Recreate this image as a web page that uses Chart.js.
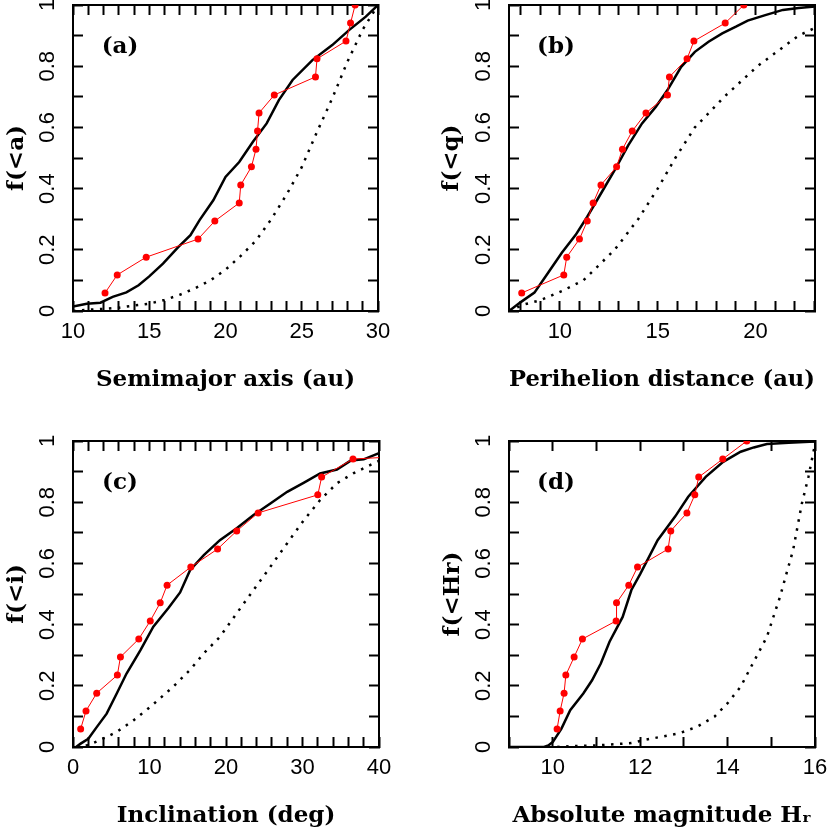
<!DOCTYPE html>
<html>
<head>
<meta charset="utf-8">
<script src="https://cdn.jsdelivr.net/npm/chart.js@4/dist/chart.umd.min.js"></script>
<style>
  html, body { margin: 0; padding: 0; background: #fff; }
  #wrap { position: relative; width: 830px; height: 836px; }
  #wrap canvas { position: absolute; }
</style>
</head>
<body>
<div id="wrap">
  <canvas id="panelA" width="415" height="418" style="left:0;top:0"></canvas>
  <canvas id="panelB" width="415" height="418" style="left:415px;top:0"></canvas>
  <canvas id="panelC" width="415" height="418" style="left:0;top:418px"></canvas>
  <canvas id="panelD" width="415" height="418" style="left:415px;top:418px"></canvas>
</div>
<script>
// Cumulative fraction of the observed sample (17 objects)
var obsFrac = [0.059, 0.118, 0.176, 0.235, 0.294, 0.353, 0.412, 0.471, 0.529,
               0.588, 0.647, 0.706, 0.765, 0.824, 0.882, 0.941, 1.0];

// (a) semimajor axis
var aObsX = [12.1, 12.9, 14.8, 18.2, 19.3, 20.9, 21.0, 21.7, 22.0, 22.1, 22.2, 23.2, 25.9, 26.0, 27.9, 28.2, 28.5];
var aModelX = [10, 10.9, 11.8, 12.6, 13.5, 14.3, 15.0, 15.9, 16.9, 17.7, 18.3, 19.2, 20.0, 20.9, 21.8, 22.7, 23.5, 24.4, 25.7, 27.0, 28.1, 29.2, 30];
var aModelF = [0.015, 0.024, 0.027, 0.046, 0.061, 0.084, 0.113, 0.155, 0.209, 0.248, 0.297, 0.362, 0.438, 0.487, 0.553, 0.613, 0.689, 0.755, 0.82, 0.869, 0.918, 0.962, 1.0];
var aIntX = [10, 11, 12, 13, 14, 15, 16, 17, 18, 19, 20, 21, 22, 23, 24, 25, 26, 27, 28, 29, 30];
var aIntF = [0.0, 0.004, 0.007, 0.011, 0.018, 0.024, 0.036, 0.053, 0.074, 0.1, 0.135, 0.18, 0.23, 0.3, 0.38, 0.47, 0.585, 0.695, 0.815, 0.92, 1.0];

// (b) perihelion distance
var bObsX = [8.05, 10.2, 10.35, 11.0, 11.4, 11.7, 12.1, 12.9, 13.2, 13.7, 14.4, 15.5, 15.6, 16.5, 16.85, 18.45, 19.4];
var bModelX = [7.4, 8.0, 8.7, 9.4, 10.1, 10.8, 11.4, 12.1, 12.8, 13.5, 14.2, 14.9, 15.5, 16.2, 16.9, 17.6, 18.3, 19.0, 19.6, 20.5, 21.4, 22.2, 23.04];
var bModelF = [0.0, 0.029, 0.06, 0.125, 0.19, 0.248, 0.308, 0.384, 0.46, 0.542, 0.613, 0.667, 0.722, 0.798, 0.847, 0.88, 0.907, 0.929, 0.949, 0.967, 0.984, 0.99, 0.995];
var bIntX = [7.4, 8.2, 9.0, 10.1, 11.2, 12.8, 14.0, 15.0, 15.9, 16.9, 18.4, 20.1, 22.2, 23.04];
var bIntF = [0.0, 0.022, 0.035, 0.065, 0.1, 0.2, 0.3, 0.4, 0.5, 0.6, 0.7, 0.8, 0.9, 0.925];

// (c) inclination
var cObsX = [1.0, 1.7, 3.1, 5.8, 6.2, 8.6, 10.1, 11.4, 12.3, 15.4, 18.9, 21.4, 24.2, 32.0, 32.5, 36.6, 80];
var cModelX = [0.4, 1.0, 2.0, 3.1, 4.4, 5.7, 7.0, 8.8, 10.5, 12.5, 14.0, 15.3, 17.1, 19.2, 21.4, 23.6, 25.8, 28.0, 30.2, 32.3, 34.5, 36.3, 38.0, 40];
var cModelF = [0.0, 0.011, 0.027, 0.065, 0.109, 0.174, 0.24, 0.316, 0.393, 0.455, 0.505, 0.578, 0.627, 0.676, 0.715, 0.758, 0.796, 0.834, 0.864, 0.894, 0.907, 0.936, 0.94, 0.96];
var cIntX = [0.5, 2.0, 3.5, 5.7, 7.9, 10.1, 13.1, 15.3, 17.1, 19.2, 21.4, 23.6, 25.8, 28.0, 30.2, 32.3, 34.5, 36.7, 39.3, 40];
var cIntF = [0.0, 0.006, 0.022, 0.049, 0.087, 0.131, 0.197, 0.252, 0.306, 0.36, 0.437, 0.513, 0.589, 0.666, 0.742, 0.807, 0.862, 0.895, 0.927, 0.935];

// (d) absolute magnitude
var dObsX = [10.1, 10.17, 10.26, 10.3, 10.49, 10.68, 11.45, 11.46, 11.74, 11.94, 12.64, 12.7, 13.07, 13.25, 13.34, 13.89, 14.44];
var dModelX = [9.0, 9.8, 9.9, 10.0, 10.2, 10.4, 10.7, 10.9, 11.1, 11.3, 11.6, 11.8, 12.0, 12.4, 12.8, 13.1, 13.5, 13.9, 14.3, 14.6, 14.9, 15.4, 16.0];
var dModelF = [0.0, 0.0, 0.005, 0.016, 0.06, 0.12, 0.175, 0.218, 0.273, 0.344, 0.425, 0.513, 0.565, 0.676, 0.753, 0.818, 0.883, 0.932, 0.965, 0.979, 0.99, 0.994, 0.998];
var dIntX = [10.1, 10.3, 11.0, 11.8, 12.1, 12.5, 12.9, 13.3, 13.7, 14.0, 14.3, 14.5, 14.7, 14.9, 15.05, 15.2, 15.35, 15.5, 15.6, 15.7, 15.85, 15.95, 16.0];
var dIntF = [0.0, 0.002, 0.005, 0.013, 0.023, 0.034, 0.045, 0.066, 0.099, 0.143, 0.197, 0.252, 0.306, 0.36, 0.426, 0.491, 0.568, 0.644, 0.72, 0.796, 0.883, 0.954, 0.99];

var fracTicks = [0, 0.2, 0.4, 0.6, 0.8, 1];

function pairs(xs, ys) {
    return xs.map(function (x, i) { return { x: x, y: ys[i] }; });
}

// draws the "(a)" style tag in the upper left of the plot
var panelTag = {
    id: 'panelTag',
    afterDatasetsDraw: function (chart, args, opts) {
        var ctx = chart.ctx, area = chart.chartArea;
        ctx.save();
        ctx.font = 'bold 23px "DejaVu Serif"';
        ctx.fillStyle = '#000';
        ctx.textAlign = 'center';
        ctx.textBaseline = 'middle';
        ctx.fillText(opts.text, area.left + 47, area.top + 42);
        ctx.restore();
    }
};

var tickFont = { family: '"Liberation Sans", Arial, sans-serif', size: 22 };
var titleFont = { family: '"DejaVu Serif", serif', size: 23, weight: 'bold' };

function frameGrid() {
    return { drawOnChartArea: false, tickLength: -10, tickWidth: 2, color: '#000' };
}

function makePanel(id, p) {
    var ctx = document.getElementById(id).getContext('2d');
    var xCommon = { type: 'linear', min: p.xMin, max: p.xMax };
    return new Chart(ctx, {
        type: 'line',
        data: {
            datasets: [{
                data: pairs(p.obsX, obsFrac),
                borderColor: '#ff0000',
                backgroundColor: '#ff0000',
                borderWidth: 1,
                pointRadius: 3.5,
                pointBorderWidth: 0,
                pointBackgroundColor: '#ff0000'
            }, {
                data: pairs(p.modelX, p.modelF),
                borderColor: '#000',
                borderWidth: 2.5,
                pointRadius: 0
            }, {
                data: pairs(p.intX, p.intF),
                borderColor: '#000',
                borderWidth: 2.5,
                borderDash: [2.5, 6.5],
                pointRadius: 0
            }]
        },
        options: {
            responsive: false,
            animation: false,
            devicePixelRatio: 1,
            events: [],
            layout: { padding: { left: 0, top: p.top, right: p.right, bottom: 0 } },
            elements: { line: { tension: 0 } },
            plugins: {
                legend: { display: false },
                tooltip: { enabled: false },
                panelTag: { text: p.tag }
            },
            scales: {
                x: Object.assign({}, xCommon, {
                    position: 'bottom',
                    border: { color: '#000', width: 2 },
                    grid: frameGrid(),
                    ticks: {
                        stepSize: p.xStep,
                        includeBounds: false,
                        autoSkip: false,
                        maxRotation: 0,
                        padding: 17.8,
                        color: '#000',
                        font: tickFont,
                        callback: function (v) { return p.xLabels.indexOf(v) !== -1 ? String(v) : ''; }
                    },
                    title: {
                        display: true,
                        text: p.xTitle,
                        color: '#000',
                        font: titleFont,
                        padding: { top: 0, bottom: p.xTitlePad }
                    },
                    afterFit: function (s) { s.height = p.xHeight; s.paddingLeft = 0; s.paddingRight = 0; }
                }),
                x2: Object.assign({}, xCommon, {
                    position: 'top',
                    border: { color: '#000', width: 2 },
                    grid: frameGrid(),
                    ticks: { stepSize: p.xStep, includeBounds: false, autoSkip: false, display: false },
                    afterFit: function (s) { s.height = 0; s.paddingLeft = 0; s.paddingRight = 0; }
                }),
                y: {
                    type: 'linear',
                    position: 'left',
                    min: 0,
                    max: 1,
                    border: { color: '#000', width: 2 },
                    grid: frameGrid(),
                    ticks: {
                        stepSize: 0.1,
                        autoSkip: false,
                        minRotation: 90,
                        maxRotation: 90,
                        crossAlign: 'center',
                        padding: 19.5,
                        color: '#000',
                        font: tickFont,
                        callback: function (v) {
                            var r = Math.round(v * 10) / 10;
                            return fracTicks.indexOf(r) !== -1 ? String(r) : '';
                        }
                    },
                    title: {
                        display: true,
                        text: p.yTitle,
                        color: '#000',
                        font: titleFont,
                        padding: { top: p.yTitlePad, bottom: 0 }
                    },
                    afterFit: function (s) { s.width = p.yWidth; s.paddingTop = 0; s.paddingBottom = 0; }
                },
                y2: {
                    type: 'linear',
                    position: 'right',
                    min: 0,
                    max: 1,
                    border: { color: '#000', width: 2 },
                    grid: frameGrid(),
                    ticks: { stepSize: 0.1, autoSkip: false, display: false },
                    afterFit: function (s) { s.width = 0; s.paddingTop = 0; s.paddingBottom = 0; }
                }
            }
        },
        plugins: [panelTag]
    });
}

makePanel('panelA', {
    tag: '(a)', xTitle: 'Semimajor axis (au)', yTitle: 'f(<a)',
    xMin: 10, xMax: 30, xStep: 1, xLabels: [10, 15, 20, 25, 30],
    obsX: aObsX, modelX: aModelX, modelF: aModelF, intX: aIntX, intF: aIntF,
    top: 5, right: 37, xHeight: 107, yWidth: 73, xTitlePad: 24, yTitlePad: 3
});

makePanel('panelB', {
    tag: '(b)', xTitle: 'Perihelion distance (au)', yTitle: 'f(<q)',
    xMin: 7.4, xMax: 23.04, xStep: 1, xLabels: [10, 15, 20],
    obsX: bObsX, modelX: bModelX, modelF: bModelF, intX: bIntX, intF: bIntF,
    top: 5, right: 15, xHeight: 107, yWidth: 94, xTitlePad: 24, yTitlePad: 23.5
});

makePanel('panelC', {
    tag: '(c)', xTitle: 'Inclination (deg)', yTitle: 'f(<i)',
    xMin: 0, xMax: 40, xStep: 2, xLabels: [0, 10, 20, 30, 40],
    obsX: cObsX, modelX: cModelX, modelF: cModelF, intX: cIntX, intF: cIntF,
    top: 23, right: 36, xHeight: 89, yWidth: 73, xTitlePad: 6, yTitlePad: 3
});

makePanel('panelD', {
    tag: '(d)', xTitle: 'Absolute magnitude H\u1D63', yTitle: 'f(<Hr)',
    xMin: 9, xMax: 16, xStep: 1, xLabels: [10, 12, 14, 16],
    obsX: dObsX, modelX: dModelX, modelF: dModelF, intX: dIntX, intF: dIntF,
    top: 23, right: 15, xHeight: 89, yWidth: 94, xTitlePad: 6, yTitlePad: 24
});
</script>
</body>
</html>
